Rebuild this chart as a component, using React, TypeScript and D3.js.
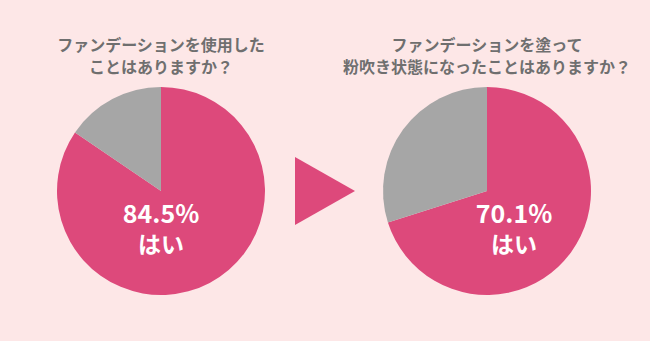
import React from "react";
import * as d3 from "d3";

const W = 650;
const H = 341;

const titles: string[][] = [
  ["ファンデーションを使用した", "ことはありますか？"],
  ["ファンデーションを塗って", "粉吹き状態になったことはありますか？"],
];
const categories = ["はい", "いいえ"];
const yesValues = [84.5, 70.1];
const noValues = [15.5, 29.9];

const PINK = "#dd497b";
const GRAY = "#a6a6a6";
const BG = "#fde7e7";
const TEXT = "#6f6f6f";
const FONT = "'Noto Sans CJK JP', 'Noto Sans', sans-serif";

export default function App() {
  const centers = [
    { cx: 161, cy: 191, lx: 161 },
    { cx: 487, cy: 191, lx: 514 },
  ];
  const r = 104;
  const pie = d3
    .pie<{ name: string; value: number }>()
    .sort(null)
    .value((d) => d.value);
  const arc = d3
    .arc<d3.PieArcDatum<{ name: string; value: number }>>()
    .innerRadius(0)
    .outerRadius(r);

  const tri = d3.line()([
    [295, 157],
    [355, 191],
    [295, 225],
  ]);

  return (
    <div style={{ position: "absolute", left: 0, top: 0 }}>
      <svg width={W} height={H} style={{ display: "block" }}>
        <rect x={0} y={0} width={W} height={H} fill={BG} />
        {centers.map((c, i) => {
          const data = [
            { name: categories[0], value: yesValues[i] },
            { name: categories[1], value: noValues[i] },
          ];
          const arcs = pie(data);
          return (
            <g key={i}>
              <text
                textAnchor="middle"
                fontFamily={FONT}
                fontWeight={700}
                fontSize={16}
                fill={TEXT}
              >
                <tspan x={c.cx} y={51}>{titles[i][0]}</tspan>
                <tspan x={c.cx} y={73}>{titles[i][1]}</tspan>
              </text>
              <g transform={`translate(${c.cx},${c.cy})`}>
                {arcs.map((a, j) => (
                  <path key={j} d={arc(a) || ""} fill={j === 0 ? PINK : GRAY} />
                ))}
              </g>
              <text
                x={c.lx}
                y={223}
                textAnchor="middle"
                fontFamily={FONT}
                fontWeight={700}
                fontSize={25}
                fill="#ffffff"
              >
                {yesValues[i].toFixed(1)}%
              </text>
              <text
                x={c.lx}
                y={253}
                textAnchor="middle"
                fontFamily={FONT}
                fontWeight={700}
                fontSize={23}
                fill="#ffffff"
              >
                {categories[0]}
              </text>
            </g>
          );
        })}
        <path d={tri || ""} fill={PINK} />
      </svg>
    </div>
  );
}
